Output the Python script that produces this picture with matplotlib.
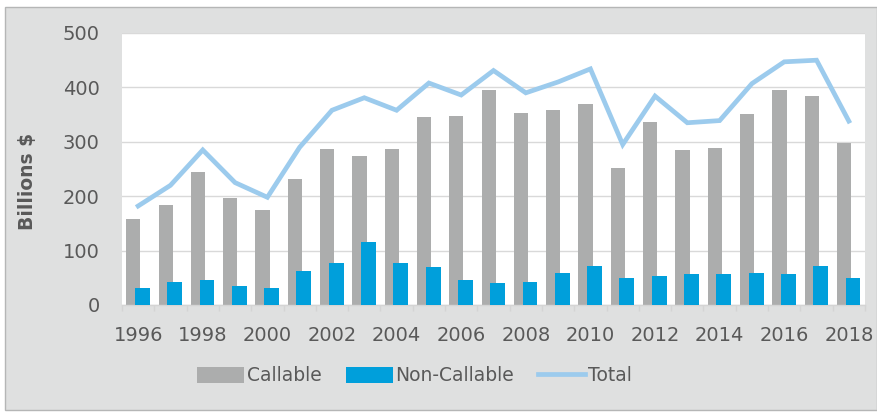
import numpy as np
import matplotlib.pyplot as plt
from matplotlib.patches import Rectangle

years = [1996, 1997, 1998, 1999, 2000, 2001, 2002, 2003, 2004, 2005, 2006, 2007,
         2008, 2009, 2010, 2011, 2012, 2013, 2014, 2015, 2016, 2017, 2018]
callable_ = [158, 184, 245, 197, 175, 231, 287, 273, 287, 346, 347, 396,
             353, 358, 369, 252, 337, 285, 289, 352, 396, 384, 298]
non_callable = [32, 42, 46, 35, 31, 63, 77, 115, 78, 69, 46, 41,
                43, 59, 72, 50, 53, 57, 57, 59, 57, 72, 49]
total = [182, 220, 285, 225, 198, 290, 358, 381, 358, 408, 386, 431,
         390, 410, 434, 295, 384, 335, 339, 407, 447, 450, 338]

gray = '#acadad'
blue = '#009fdb'
light_blue = '#9ccbed'
text_color = '#595959'

fig = plt.figure(figsize=(8.78, 4.12), dpi=100)
fig.patch.set_facecolor('white')
# chart area background box
fig.patches.append(Rectangle((5 / 878, 2 / 412), 872 / 878, 403 / 412,
                             transform=fig.transFigure, facecolor='#dfe0e0',
                             edgecolor='#b5b6b6', linewidth=1, zorder=0))

ax = fig.add_axes([122 / 878, 1 - 305 / 412, 743 / 878, 272 / 412])
ax.set_zorder(2)
ax.set_facecolor('white')

x = np.arange(len(years))
b1 = ax.bar(x - 0.15, callable_, width=0.44, color=gray, label='Callable', zorder=2)
b2 = ax.bar(x + 0.13, non_callable, width=0.46, color=blue, label='Non-Callable', zorder=3)
l1, = ax.plot(x, total, color=light_blue, linewidth=3.4, label='Total', zorder=4,
              solid_joinstyle='miter')

ax.set_xlim(-0.5, len(years) - 0.5)
ax.set_ylim(0, 500)
ax.set_yticks(np.arange(0, 501, 100))
ax.set_xticks(x[::2])
ax.set_xticklabels([str(y) for y in years[::2]])
ax.set_xticks(np.arange(-0.5, len(years), 1), minor=True)

ax.grid(axis='y', color='#d9d9d9', linewidth=1, zorder=0)
ax.set_axisbelow(True)
for s in ['top', 'right', 'left']:
    ax.spines[s].set_visible(False)
ax.spines['bottom'].set_color('#d4d4d4')
ax.spines['bottom'].set_linewidth(1)

ax.tick_params(axis='y', length=0, pad=16, labelsize=14, labelcolor=text_color)
ax.tick_params(axis='x', which='major', length=0, pad=15, labelsize=14, labelcolor=text_color)
ax.tick_params(axis='x', which='minor', length=4, color='#d4d4d4', width=1)

ax.set_ylabel('Billions $', fontsize=13.5, fontweight='bold', color=text_color)
ax.yaxis.set_label_coords(-0.114, 0.456)

leg = fig.legend([b1, b2, l1], ['Callable', 'Non-Callable', 'Total'],
                 loc='center', bbox_to_anchor=(0.472, 0.088), ncol=3, frameon=False,
                 fontsize=13.5, handlelength=2.5, handleheight=0.9,
                 handletextpad=0.15, columnspacing=1.3, labelcolor=text_color)

plt.savefig('out.png', dpi=100, facecolor=fig.get_facecolor())
